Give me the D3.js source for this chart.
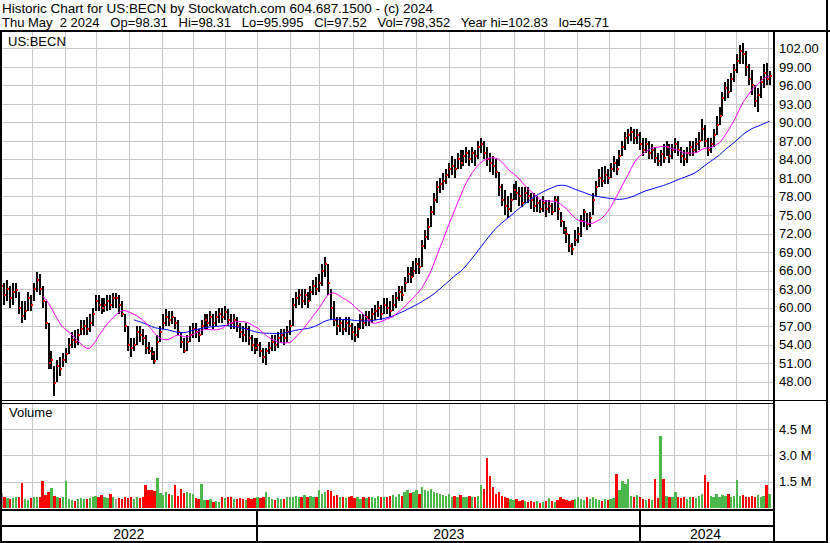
<!DOCTYPE html>
<html>
<head>
<meta charset="utf-8">
<title>US:BECN historic chart</title>
<script src="https://d3js.org/d3.v7.min.js"></script>
<style>
  body { margin: 0; background: #fff; }
  text { font-family: "Liberation Sans", Arial, sans-serif; fill: #000; }
</style>
</head>
<body>
<svg width="830" height="543"></svg>
<script>
// each entry = 2 trading days, May 2 2022 .. May 2 2024
var closes = [
  63.5,62,63,61.5,62.5,62.8,60,58.7,59.5,61.5,
  60.5,63,64.5,63,61,57.5,51,51.5,47.8,50.5,
  50,51.5,52.5,54,54.8,54.5,55.5,56.5,57,56.5,
  57.5,59,61,60.5,60,60.5,61,60.5,61.5,61.5,
  60.5,59,57,54,53.5,54,56,55.5,55,53.5,
  53,52.5,51.3,54.5,56,57.5,58.5,58,58.5,57.5,
  56,54.5,53,54.5,55.5,56.5,56,55.5,57,58,
  57.5,58.5,57.5,58.5,59,58.5,59.3,58,57.5,58,
  57,56,55.5,56.5,55,54,53.5,54,53,52,
  53,53.5,54.5,54,55,55.5,55,56,57,60.5,
  61.5,62,61,62,61,62.5,63.5,63,64,66,
  67,64,60,58,57,57.5,56.5,57.5,57,56,
  55.5,56.5,58,57.5,58.5,58,59,59.5,60,59,
  60.5,60,59.5,60.5,61.5,62.5,62,64,65.5,65,
  66,67,66.5,70,71.5,73,75.5,77.5,79.5,80,
  80.5,81.5,82.5,83,82.5,84,83.5,84.5,85,84,
  85,84.5,86,86.5,85,84,83.5,83,82,79.5,
  77.5,76.5,76,77.5,79,78.5,78,77,78.5,78,
  77.5,76.5,77,76,77,76,76.5,75.5,77.5,76,
  74,72.5,72,70,69.5,71,72,74,75.5,73.5,
  74.5,77.5,79.5,81,80.5,81.5,81,82.5,83.5,82.5,
  84.5,86,87.5,88,88.5,87.5,88,86.5,85.5,86.5,
  85,85.5,84.2,83.8,84.8,84.3,86,84.5,85.5,86.5,
  85.5,84.5,84,85,86,85.5,86.5,87,89,87,
  85.5,86.5,88,89.5,91,94,95.5,95,97,98.5,
  100,101.5,101,99,97,96,93.5,94.5,96.5,98,97,97.52
];
var highs = [
  65,64,64.5,63.5,64,64,62.5,61,61,62.5,
  62,64,65.8,65.5,63.5,61,57.5,53,50.5,51.5,
  52,52.7,53.5,55,56,56.3,56.5,58,58,58.5,
  59,60,62,62,61.5,61.5,62,62,62.3,62.4,
  62,61,59,57,55,55,57,57,56.5,55.5,
  54.5,53.7,53,55.5,57,59,59.7,59.5,59.5,58.5,
  58,56,55,55.5,57,57.5,57.5,56.5,58,59,
  59,59.5,59,59.5,60,60,60.2,59.7,59,59,
  58.5,57.5,57,57.5,57,55.5,55,55,54.5,53.5,
  53.5,54.5,55.5,55.5,56,56.5,56.5,57,58,61.5,
  62.5,63,63,63,62.5,63.5,64.5,65,65.5,67,
  68.2,67,63,61,58.5,58.5,58,58.5,58.5,57.5,
  57,57.5,59,59,59.5,59.5,60,60.5,61,60.5,
  61.5,61.5,61,62,62.5,63.5,63.5,65,66.5,66.5,
  67.5,68,68,71,72.5,74.5,76.5,78.5,80.5,81,
  81.8,82.5,83.5,84.5,84,85,85.5,85.5,86,85.5,
  86,85.5,87,87.5,87,86,85,84.5,84,82,
  80,79,78,78.5,80,80.5,79.5,79.5,79.5,79.5,
  78.5,78.5,78,77.5,78,77.5,77.5,77,78,78,
  75.5,74,73,72,70.5,72.5,73,75,76,75.3,
  75.5,78.5,80.5,82.5,82.8,83,82.5,83.5,84.5,84,
  85.5,87,88.5,89,89.3,89,89,88.5,87.5,87.5,
  87,86.5,86,85,85.5,86.5,87,86.5,86.5,87.5,
  87,86,85.5,86,87,87,87.5,88.5,90.5,89.5,
  87.5,87.5,89,91,92.5,95,96.5,97,98,99.5,
  101,102.5,102.83,101.5,99.5,98.5,96,95.5,97.5,99.5,99.6,98.31
];
var lows = [
  61,60.5,61,60,60.5,61.5,59,57.5,58,59.5,
  59.5,61,62.5,62,60,56.5,50,50,45.71,48,
  49,50.3,51,52.5,53.5,53.5,54,55.5,55.5,55.5,
  56,57,59.5,59.5,59,59.3,59.5,59.6,60,60,
  59,58.5,56,53,52,53,54,54.5,54,52.5,
  52.5,51.5,50.8,51.5,54.5,56.5,57,57,57.3,56.5,
  55.5,53.5,52.6,53,54.5,55,55,54.5,55.5,56.5,
  56.5,57,56.5,57,57.5,57.5,58,57,56.5,56.5,
  56,55,54.5,54.5,54,53,52.5,53,52,51,
  50.7,52.5,53,53,53.5,54.5,54,54.5,55.5,57,
  60,60.5,60,60.5,60,61,62,62,62.5,63.5,
  65,62,58,57,55.5,56,55.5,56,55.5,54.8,
  54.5,55,56.5,56.5,57,57,57.5,58,58.5,58,
  59,59,58.5,59.5,60,61,61,62.5,64,64,
  65,65.5,65.5,66.5,69.5,71,73,75,77,78.5,
  79,80,81,81.5,81,82.5,82.5,83,83.5,83,
  83.5,83,84,85,84,83,82,81.5,81,78,
  76.5,75,74.5,75.5,77.5,77.5,76.5,76.3,77,77,
  76,75.5,75.5,75.3,75.5,74.7,75.3,75,75.5,74.2,
  73,72,70.5,69,68.5,70,70.5,71.5,73,72.5,
  73,75,78,79.5,79.5,80,80,81,82,81.5,
  83,84.5,85.5,86.5,87,86.5,86.5,85.5,84.5,85,
  84,84,83.5,83,83,83.5,84.5,83.5,84,85,
  84.5,83.5,83,83.5,84.5,84.5,85,85.5,87,86,
  84.5,85,86,88,89.5,91,93.5,94,95,96.5,
  98,99.5,99.5,97.5,96,94.5,92.5,91.7,94,95.5,96,95.995
];
// volume in millions of shares
var volumes = [
  0.85,0.6,0.55,0.5,0.55,0.6,0.65,1.45,0.5,0.45,
  0.55,0.6,0.65,0.6,1.55,0.75,0.93,1.15,0.7,0.6,
  0.55,0.6,1.55,0.5,0.45,0.4,0.5,0.55,0.5,0.5,
  0.55,0.65,0.7,0.6,0.75,0.6,0.55,0.8,0.6,0.5,
  0.55,0.5,0.6,0.55,0.6,0.5,0.6,0.55,0.6,1.3,
  1.0,1.05,0.95,1.7,0.85,0.75,0.9,0.8,0.75,1.3,
  0.7,1.08,0.85,0.9,0.85,0.8,0.55,0.5,1.37,0.45,
  0.45,0.5,0.35,0.4,0.35,0.6,0.55,0.65,0.6,0.5,
  0.5,0.55,0.5,0.45,0.55,0.5,0.55,0.6,0.55,0.6,
  0.93,0.6,0.5,0.45,0.55,0.5,0.5,0.6,0.6,0.65,
  0.7,0.6,0.65,0.75,0.6,0.7,0.65,0.6,1.0,0.8,
  0.9,1.0,0.95,0.7,0.75,0.6,0.65,0.55,0.6,0.7,
  0.55,0.6,0.5,0.6,0.55,0.65,0.6,0.55,0.7,0.6,
  0.65,0.6,0.7,0.75,0.65,0.8,0.7,0.9,1.0,0.85,
  0.9,1.0,0.8,1.2,1.0,0.95,1.1,0.9,0.85,0.8,
  0.75,0.7,0.8,0.65,0.7,0.6,0.75,0.65,0.6,0.7,
  0.6,0.65,0.7,1.3,1.1,2.85,1.8,1.2,0.8,0.9,
  0.7,0.6,0.55,0.5,0.45,0.5,0.4,0.45,0.4,0.35,
  0.4,0.35,0.4,0.3,0.35,0.4,0.55,0.4,0.35,0.45,
  0.64,0.5,0.45,0.4,0.45,0.5,0.65,0.5,0.45,0.6,
  0.5,0.6,0.5,0.45,0.4,0.5,0.45,0.5,0.55,1.94,
  1.0,1.55,1.37,1.65,0.7,0.6,0.75,0.6,0.5,0.45,
  0.5,0.45,1.65,0.55,4.1,1.65,0.7,0.6,0.65,0.93,
  0.6,0.55,0.6,0.5,0.65,0.6,0.55,0.7,0.8,1.88,
  1.5,0.7,0.65,0.8,0.6,0.75,0.7,0.8,0.65,0.7,
  1.6,0.7,0.75,0.6,0.65,0.7,0.6,0.75,0.65,0.7,1.3,0.8
];
var priceTicks = [48,51,54,57,60,63,66,69,72,75,78,81,84,87,90,93,96,99,102];
var volTicks = [1.5, 3.0, 4.5];
var titleLine = "Historic Chart for US:BECN by Stockwatch.com 604.687.1500 - (c) 2024";
var infoLine = "Thu May  2 2024   Op=98.31   Hi=98.31   Lo=95.995   Cl=97.52   Vol=798,352   Year hi=102.83   lo=45.71";
var fastLen = 15, slowLen = 46;   // moving averages, in entries

// weekdays of the period, used for the month grid and year axis
var days = [];
for (var d = new Date(2022, 4, 2); d <= new Date(2024, 4, 2); d.setDate(d.getDate() + 1)) {
  if (d.getDay() % 6 !== 0) days.push(new Date(d));
}

var svg = d3.select("svg"),
    plotRight = 773,
    priceTop = 32, priceBot = 400,
    volTop = 404, volBot = 509;

var x = d3.scaleLinear().domain([0, days.length]).range([0, 771]);
var y = d3.scaleLinear().domain([48, 102]).range([381.7, 48.3]);
var yv = d3.scaleLinear().domain([0, 4.5]).range([508, 429]);

svg.append("rect").attr("width", 830).attr("height", 543).attr("fill", "#fff");

// header
svg.append("text").attr("x", 2).attr("y", 13).attr("font-size", 13.5)
    .attr("textLength", 431).attr("lengthAdjust", "spacing").text(titleLine);
svg.append("text").attr("x", 2).attr("y", 27).attr("font-size", 13)
    .attr("xml:space", "preserve").style("white-space", "pre")
    .attr("textLength", 607).attr("lengthAdjust", "spacing").text(infoLine);

// month boundaries and year boundaries
var monthIdx = [], yearIdx = [];
days.forEach(function(dd, k) {
  if (k > 0 && dd.getMonth() !== days[k - 1].getMonth()) monthIdx.push(k);
  if (k > 0 && dd.getFullYear() !== days[k - 1].getFullYear()) yearIdx.push(k);
});

var grid = svg.append("g").attr("stroke", "#c8c8c8").attr("stroke-width", 1).attr("shape-rendering", "crispEdges");
[[priceTop, priceBot], [volTop, volBot]].forEach(function(p) {
  grid.selectAll(null).data(monthIdx).enter().append("line")
    .attr("x1", function(k) { return Math.round(x(k)) + 0.5; })
    .attr("x2", function(k) { return Math.round(x(k)) + 0.5; })
    .attr("y1", p[0]).attr("y2", p[1]);
});
grid.selectAll(null).data(priceTicks).enter().append("line")
  .attr("x1", 2).attr("x2", plotRight)
  .attr("y1", function(t) { return Math.round(y(t)) + 0.5; })
  .attr("y2", function(t) { return Math.round(y(t)) + 0.5; });
grid.selectAll(null).data(volTicks).enter().append("line")
  .attr("x1", 2).attr("x2", plotRight)
  .attr("y1", function(t) { return Math.round(yv(t)) + 0.5; })
  .attr("y2", function(t) { return Math.round(yv(t)) + 0.5; });

var bars = closes.map(function(c, i) {
  return { i: i, close: c, high: highs[i], low: lows[i], vol: volumes[i],
           prev: i > 0 ? closes[i - 1] : c };
});
function xc(i) { return Math.round(x(2 * i + 1)); }

// volume
svg.append("g").attr("shape-rendering", "crispEdges")
  .selectAll("rect").data(bars).enter().append("rect")
    .attr("x", function(b) { return x(2 * b.i) + 0.3; })
    .attr("width", function(b) { return x(2 * b.i + 2) - x(2 * b.i) - 0.6; })
    .attr("y", function(b) { return yv(b.vol); })
    .attr("height", function(b) { return yv(0) - yv(b.vol); })
    .attr("fill", function(b) {
      return b.close > b.prev ? "#4cb84c" : b.close < b.prev ? "#ff0000" : "#a0a0a0";
    });

// price bars: high-low stroke with a red close mark
var pg = svg.append("g").attr("shape-rendering", "crispEdges");
pg.selectAll("rect.hl").data(bars).enter().append("rect")
  .attr("class", "hl")
  .attr("x", function(b) { return xc(b.i) - 1; })
  .attr("width", 2)
  .attr("y", function(b) { return y(b.high); })
  .attr("height", function(b) { return Math.max(1, y(b.low) - y(b.high)); })
  .attr("fill", "#000");
pg.selectAll("rect.cl").data(bars).enter().append("rect")
  .attr("class", "cl")
  .attr("x", function(b) { return xc(b.i); })
  .attr("width", 2)
  .attr("y", function(b) { return Math.round(y(b.close)) - 1; })
  .attr("height", 2)
  .attr("fill", "#ff0000");

// moving averages of the close
function movingAvg(n) {
  return closes.map(function(c, i) {
    return i < n - 1 ? null : d3.mean(closes.slice(i - n + 1, i + 1));
  });
}
var line = d3.line()
  .defined(function(v) { return v !== null; })
  .x(function(v, i) { return x(2 * i + 1); })
  .y(function(v) { return y(v); });
svg.append("path").datum(movingAvg(slowLen)).attr("d", line)
  .attr("fill", "none").attr("stroke", "#0000ff").attr("stroke-width", 1);
svg.append("path").datum(movingAvg(fastLen)).attr("d", line)
  .attr("fill", "none").attr("stroke", "#ff00ff").attr("stroke-width", 1);

// right axis labels
svg.append("g").selectAll("text").data(priceTicks).enter().append("text")
  .attr("x", 779).attr("y", function(t) { return y(t); }).attr("dy", "0.36em")
  .attr("font-size", 13).text(function(t) { return t.toFixed(2); });
svg.append("g").selectAll("text").data(volTicks).enter().append("text")
  .attr("x", 779).attr("y", function(t) { return yv(t); }).attr("dy", "0.36em")
  .attr("font-size", 13).text(function(t) { return t.toFixed(1) + " M"; });

svg.append("text").attr("x", 8).attr("y", 46).attr("font-size", 13).text("US:BECN");
svg.append("text").attr("x", 9).attr("y", 417).attr("font-size", 13).text("Volume");

// frame
var frame = svg.append("g").attr("fill", "#000").attr("shape-rendering", "crispEdges");
frame.append("rect").attr("x", 0).attr("y", 30).attr("width", 830).attr("height", 2);
frame.append("rect").attr("x", 0).attr("y", 30).attr("width", 2).attr("height", 513);
frame.append("rect").attr("x", 826).attr("y", 0).attr("width", 2).attr("height", 543);
frame.append("rect").attr("x", plotRight).attr("y", 30).attr("width", 2).attr("height", 513);
frame.append("rect").attr("x", 0).attr("y", 400).attr("width", 828).attr("height", 1);
frame.append("rect").attr("x", 0).attr("y", 403).attr("width", plotRight).attr("height", 1);
frame.append("rect").attr("x", 0).attr("y", volBot).attr("width", plotRight).attr("height", 2);
frame.append("rect").attr("x", 0).attr("y", 525).attr("width", plotRight).attr("height", 2);
frame.append("rect").attr("x", 0).attr("y", 541).attr("width", 828).attr("height", 2);

// year axis
var yb = [0].concat(yearIdx).concat([days.length]);
yearIdx.forEach(function(k) {
  frame.append("rect").attr("x", Math.round(x(k)) - 1).attr("y", volBot)
    .attr("width", 2).attr("height", 541 - volBot);
});
var segs = d3.pairs(yb).map(function(p) {
  return { label: days[p[0]].getFullYear(), mid: (x(p[0]) + Math.min(x(p[1]), plotRight)) / 2 };
});
svg.append("g").selectAll("text").data(segs).enter().append("text")
  .attr("x", function(s) { return s.mid; }).attr("y", 539)
  .attr("text-anchor", "middle").attr("font-size", 14)
  .text(function(s) { return s.label; });
</script>
</body>
</html>
